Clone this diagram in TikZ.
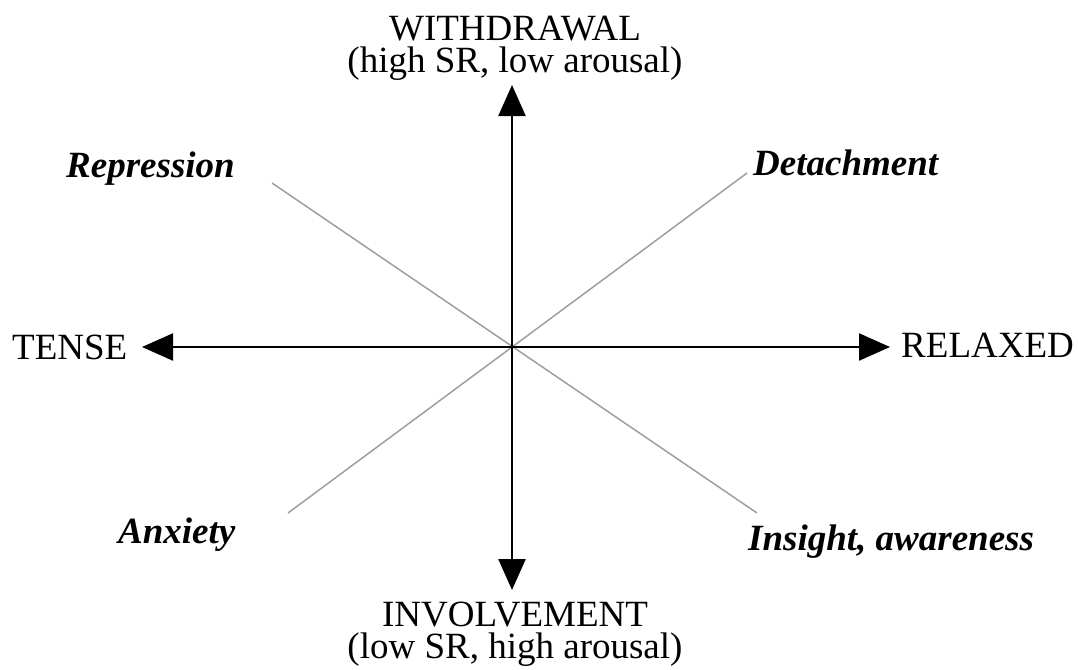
\documentclass[tikz,border=0pt]{standalone}
\usepackage{fontspec}
\setmainfont{Liberation Serif}
\usetikzlibrary{arrows.meta}
\begin{document}
\begin{tikzpicture}[x=1pt,y=-1pt,
  axis/.style={line width=2.4pt,draw=black,
    {Triangle[length=31pt,width=27pt]}-{Triangle[length=31pt,width=27pt]}},
  diag/.style={line width=1.5pt,draw=black!38},
  lab/.style={inner sep=0pt,font=\fontsize{37}{32}\selectfont},
  mood/.style={inner sep=0pt,anchor=base west,font=\fontsize{37}{32}\selectfont\bfseries\itshape},
]
\useasboundingbox (0,0) rectangle (1078,669);
% axis ends
\coordinate (top) at (512,85);
\coordinate (bot) at (512,590);
\coordinate (lft) at (142,347);
\coordinate (rgt) at (890,347);
% diagonal ends
\coordinate (ul) at (272,183);
\coordinate (lr) at (757,513);
\coordinate (ur) at (747,173);
\coordinate (ll) at (288,513);
\draw[diag] (ul) -- (lr);
\draw[diag] (ur) -- (ll);
\draw[axis] (bot) -- (top);
\draw[axis] (lft) -- (rgt);
% labels
\node[lab,anchor=north,align=center] (withdrawal) at (515,16) {WITHDRAWAL\\(high SR, low arousal)};
\node[lab,anchor=north,align=center] (involvement) at (515,602) {INVOLVEMENT\\(low SR, high arousal)};
\node[lab,anchor=base west] (tense) at (12,359) {TENSE};
\node[lab,anchor=base west] (relaxed) at (901,357) {RELAXED};
\node[mood] (repression) at (66,177) {Repression};
\node[mood] (detachment) at (753,175) {Detachment};
\node[mood] (anxiety) at (118,543) {Anxiety};
\node[mood] (insight) at (748,550) {Insight, awareness};
\end{tikzpicture}
\end{document}
